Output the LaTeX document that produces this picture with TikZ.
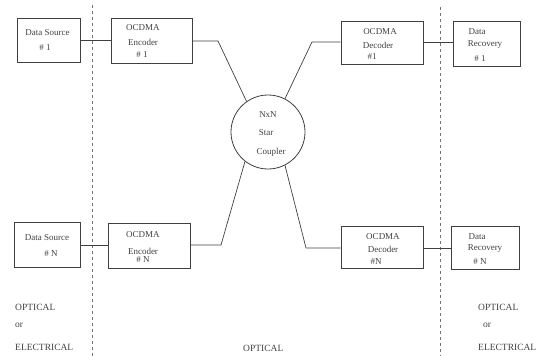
\documentclass[tikz,border=0pt]{standalone}
\usepackage{fontspec}
\setmainfont{Liberation Serif}
\begin{document}
\begin{tikzpicture}[x=1pt,y=-1pt,
  box/.style={draw=black!75,line width=0.8pt,minimum width=#1,inner sep=0pt},
  txt/.style={text=black!75,font=\fontsize{9}{10}\selectfont,inner sep=0pt},
  lbl/.style={text=black!75,font=\fontsize{9.5}{11}\selectfont,inner sep=0pt,anchor=west},
  wire/.style={draw=black!75,line width=0.7pt},
  divider/.style={draw=black!55,line width=0.6pt,dash pattern=on 3pt off 3pt}]
\useasboundingbox (0,0) rectangle (539,356);
% dividers
\coordinate (d1t) at (92,5); \coordinate (d1b) at (92,356);
\coordinate (d2t) at (440,7); \coordinate (d2b) at (440,356);
\draw[divider] (d1t) -- (d1b);
\draw[divider] (d2t) -- (d2b);
% boxes
\node[box=63pt,minimum height=44pt] (s1) at (48.5,40) {};
\node[box=81pt,minimum height=45pt] (e1) at (151.5,40.5) {};
\node[box=82pt,minimum height=43pt] (d1) at (382,42.5) {};
\node[box=67pt,minimum height=45pt] (r1) at (486.5,43.5) {};
\node[box=66pt,minimum height=45pt] (sN) at (47,244.5) {};
\node[box=82pt,minimum height=45pt] (eN) at (149,245.5) {};
\node[box=82pt,minimum height=42pt] (dN) at (382,247) {};
\node[box=68pt,minimum height=43pt] (rN) at (485,247.5) {};
\node[draw=black!75,line width=0.8pt,circle,minimum size=74pt,inner sep=0pt] (star) at (268,132) {};
% texts
\node[txt] (s1a) at (47.5,33) {Data Source};
\node[txt] (s1b) at (45,48) {\# 1};
\node[txt] (e1a) at (143,28) {OCDMA};
\node[txt] (e1b) at (143,42) {Encoder};
\node[txt] (e1c) at (142,55) {\# 1};
\node[txt] (d1a) at (380,32) {OCDMA};
\node[txt] (d1b) at (378,45) {Decoder};
\node[txt] (d1c) at (372,57) {\#1};
\node[txt] (r1a) at (477,32) {Data};
\node[txt] (r1b) at (485,45) {Recovery};
\node[txt] (r1c) at (480,59) {\# 1};
\node[txt] (sNa) at (47,238) {Data Source};
\node[txt] (sNb) at (51,254) {\# N};
\node[txt] (eNa) at (143,235) {OCDMA};
\node[txt] (eNb) at (143,251) {Encoder};
\node[txt] (eNc) at (143,260) {\# N};
\node[txt] (dNa) at (383,237) {OCDMA};
\node[txt] (dNb) at (383,249) {Decoder};
\node[txt] (dNc) at (376,262) {\#N};
\node[txt] (rNa) at (477,237) {Data};
\node[txt] (rNb) at (485,249) {Recovery};
\node[txt] (rNc) at (480,262) {\# N};
\node[txt] (sa) at (268,115) {NxN};
\node[txt] (sb) at (266,133) {Star};
\node[txt] (sc) at (271,152) {Coupler};
% side labels
\node[lbl] (l1) at (15,307) {OPTICAL};
\node[lbl] (l2) at (15,325) {or};
\node[lbl] (l3) at (15,347) {ELECTRICAL};
\node[lbl] (r1l) at (478,307) {OPTICAL};
\node[lbl] (r2l) at (483,325) {or};
\node[lbl] (r3l) at (478,347) {ELECTRICAL};
\node[lbl] (mid) at (243,348) {OPTICAL};
% connectors
\draw[wire] (s1.east |- 0,40) -- (e1.west |- 0,40);
\draw[wire] (e1.east |- 0,41) -- (218,41) -- (star.125);
\draw[wire] (d1.west |- 0,42) -- (312,42) -- (star.63);
\draw[wire] (d1.east |- 0,42) -- (r1.west |- 0,42);
\draw[wire] (sN.east |- 0,245) -- (eN.west |- 0,245);
\draw[wire] (eN.east |- 0,245) -- (221,245) -- (star.232);
\draw[wire] (dN.west |- 0,248) -- (306,248) -- (star.297);
\draw[wire] (dN.east |- 0,248) -- (rN.west |- 0,248);
\end{tikzpicture}
\end{document}
